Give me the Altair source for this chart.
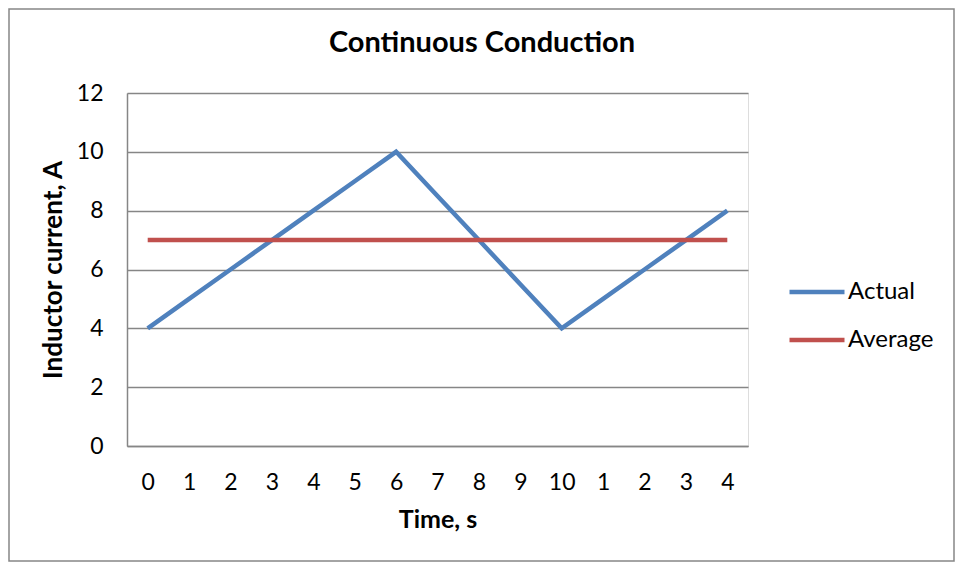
import altair as alt
import pandas as pd

title_text = "Continuous Conduction"
tick_labels = ["0", "1", "2", "3", "4", "5", "6", "7", "8", "9", "10", "1", "2", "3", "4"]
actual = [4, 5, 6, 7, 8, 9, 10, 8.5, 7, 5.5, 4, 5, 6, 7, 8]
average = [7] * 15
series_names = ["Actual", "Average"]

rows = []
for i, v in enumerate(actual):
    rows.append({"idx": i, "value": v, "series": "Actual"})
for i, v in enumerate(average):
    rows.append({"idx": i, "value": v, "series": "Average"})
df = pd.DataFrame(rows)

FONT = "Lato"
GRID = "#868686"
W, H = 621, 353
PL, PT = 119, 85
TOTW, TOTH = 947, 554
PR = TOTW - PL - W
PB = TOTH - PT - H

label_expr = "[" + ",".join("'%s'" % t for t in tick_labels) + "][datum.value]"

lines = alt.Chart(df).mark_line(strokeWidth=4.5, strokeCap="butt").encode(
    x=alt.X("idx:O", scale=alt.Scale(type="point", padding=0.5),
            axis=alt.Axis(title="Time, s", labelExpr=label_expr, labelAngle=0,
                          ticks=False, domain=True, domainColor=GRID, domainWidth=1.5,
                          labelPadding=25, titlePadding=13, labelFontSize=23,
                          titleFontSize=25, titleFontWeight="bold", labelColor="#000",
                          titleColor="#000", grid=False, labelFont=FONT, titleFont=FONT)),
    y=alt.Y("value:Q", scale=alt.Scale(domain=[0, 12], nice=False),
            axis=alt.Axis(title="Inductor current, A", values=[0, 2, 4, 6, 8, 10, 12],
                          ticks=False, domain=True, domainColor=GRID, domainWidth=1.5,
                          grid=True, gridColor=GRID, gridWidth=1.5,
                          labelPadding=24, titlePadding=10, labelFontSize=23,
                          titleFontSize=26, titleFontWeight="bold", labelColor="#000",
                          titleColor="#000", labelFont=FONT, titleFont=FONT)),
    color=alt.Color("series:N",
                    scale=alt.Scale(domain=series_names, range=["#4F81BD", "#C0504D"]),
                    legend=alt.Legend(title=None, orient="none", legendX=660, legendY=169,
                                      symbolType="stroke", symbolSize=3025,
                                      symbolStrokeWidth=4.5, labelFontSize=24,
                                      labelFont=FONT, labelColor="#000",
                                      labelOffset=1, rowPadding=6)),
    order="idx:O",
)

border = alt.Chart(pd.DataFrame({"a": [0]})).mark_rect(
    fill=None, stroke="#868686", strokeWidth=1.5
).encode(
    x=alt.value(-PL + 1), x2=alt.value(W + PR - 1),
    y=alt.value(-PT + 1), y2=alt.value(H + PB - 1),
)

title = alt.Chart(pd.DataFrame({"t": [title_text]})).mark_text(
    font=FONT, fontSize=29, fontWeight="bold", color="#000",
    align="center", baseline="alphabetic"
).encode(
    x=alt.value(355), y=alt.value(-41), text="t:N"
)

chart = alt.layer(border, lines, title).properties(
    width=W, height=H,
    autosize=alt.AutoSizeParams(type="none"),
    padding={"left": PL, "top": PT, "right": PR, "bottom": PB},
).configure_view(stroke=None).configure(background="white")

chart.save("out.html", embed_options={"renderer": "svg", "actions": False})
